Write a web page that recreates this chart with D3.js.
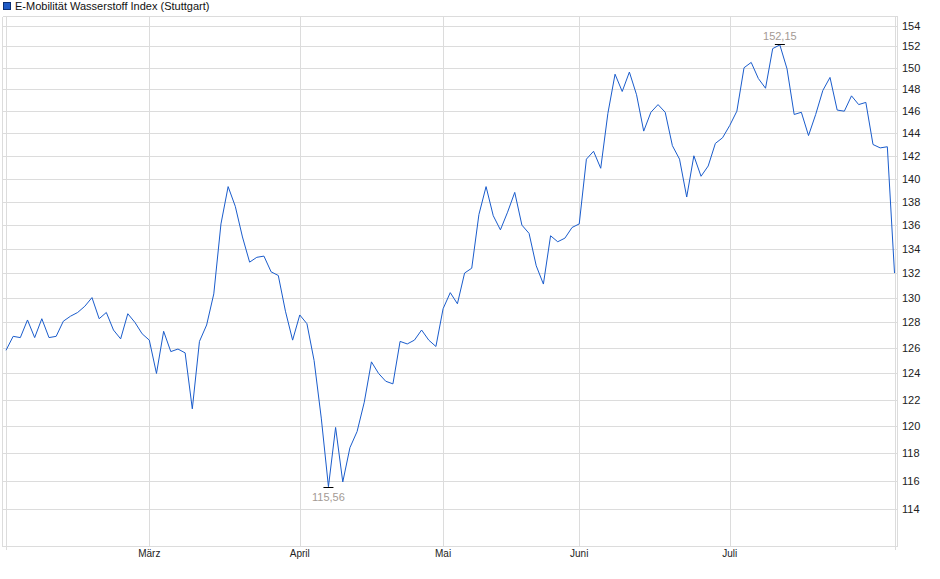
<!DOCTYPE html>
<html>
<head>
<meta charset="utf-8">
<title>E-Mobilität Wasserstoff Index</title>
<script src="https://cdn.jsdelivr.net/npm/d3@7"></script>
<style>
  body { margin: 0; background: #fff; font-family: "Liberation Sans", Arial, sans-serif; }
  svg { display: block; }
  .grid line { stroke: #dcdcdc; stroke-width: 1; shape-rendering: crispEdges; }
  .ylab { font-size: 11px; fill: #222; }
  .xlab { font-size: 10px; fill: #222; }
</style>
</head>
<body>
<div id="chart"></div>
<script>
// series name and closing values (one per trading day)
var seriesName = "E-Mobilität Wasserstoff Index (Stuttgart)";
var values = [
  125.8, 126.9, 126.8, 128.2, 126.8, 128.3, 126.8, 126.9, 128.1, 128.5,
  128.8, 129.3, 130.0, 128.3, 128.8, 127.4, 126.7, 128.7, 128.0, 127.1,
  126.6, 124.0, 127.3, 125.7, 125.9, 125.6, 121.3, 126.5, 127.8, 130.3,
  136.1, 139.3, 137.6, 135.0, 132.9, 133.3, 133.4, 132.1, 131.8, 128.9,
  126.6, 128.6, 127.9, 125.0, 120.6, 115.56, 119.9, 115.9, 118.4, 119.6,
  121.8, 124.9, 124.0, 123.4, 123.2, 126.5, 126.3, 126.6, 127.4, 126.6,
  126.1, 129.1, 130.4, 129.5, 132.0, 132.4, 136.9, 139.3, 136.8, 135.6,
  137.1, 138.8, 136.0, 135.3, 132.6, 131.1, 135.1, 134.6, 134.9, 135.8,
  136.1, 141.7, 142.4, 140.9, 145.8, 149.4, 147.8, 149.6, 147.5, 144.2,
  145.9, 146.6, 145.9, 142.9, 141.7, 138.4, 142.0, 140.2, 141.1, 143.1,
  143.6, 144.7, 146.0, 150.0, 150.5, 149.0, 148.1, 151.8, 152.15, 149.9,
  145.7, 145.9, 143.8, 145.7, 147.9, 149.1, 146.1, 146.0, 147.4, 146.6,
  146.8, 143.0, 142.7, 142.8, 132.0
];
// month starts, as index into values
var monthIdx = [20, 41, 61, 80, 101];
var monthNames = ["März", "April", "Mai", "Juni", "Juli"];
// y ticks
var yTicks = d3.range(114, 155, 2);

var width = 940, height = 579;
var frame = { left: 2.5, right: 897.5, top: 16.5, bottom: 546.5 };

var x = d3.scaleLinear()
    .domain([0, values.length - 1])
    .range([6, 894.5]);
// log scale, like the original
var y = d3.scaleLog()
    .domain([114, 154])
    .range([508.5, 25.5]);

var de = d3.formatLocale({ decimal: ",", thousands: ".", grouping: [3], currency: ["", " €"] });
var fmt = de.format(".2f");

var svg = d3.select("#chart").append("svg")
    .attr("width", width)
    .attr("height", height);

// legend
svg.append("rect")
    .attr("x", 3.5).attr("y", 2.5)
    .attr("width", 7).attr("height", 7)
    .attr("fill", "#1f5bc6")
    .attr("stroke", "#0b2f73");
svg.append("text")
    .attr("x", 15).attr("y", 10)
    .attr("font-size", 11)
    .attr("fill", "#111")
    .text(seriesName);

// grid
var grid = svg.append("g").attr("class", "grid");
grid.selectAll(".hy").data(yTicks).enter().append("line")
    .attr("x1", frame.left).attr("x2", frame.right)
    .attr("y1", function(d) { return Math.round(y(d)) + 0.5; })
    .attr("y2", function(d) { return Math.round(y(d)) + 0.5; });

var vIdx = [0].concat(monthIdx).concat([values.length - 1]);
grid.selectAll(".vx").data(vIdx).enter().append("line")
    .attr("x1", function(d) { return Math.round(x(d)) + 0.5; })
    .attr("x2", function(d) { return Math.round(x(d)) + 0.5; })
    .attr("y1", frame.top)
    .attr("y2", function(d, i) { return (i == 0 || i == vIdx.length - 1) ? frame.bottom + 3 : frame.bottom; });

// frame
grid.append("line").attr("x1", frame.left).attr("x2", frame.right).attr("y1", frame.top).attr("y2", frame.top);
grid.append("line").attr("x1", frame.left).attr("x2", frame.right).attr("y1", frame.bottom).attr("y2", frame.bottom);
grid.append("line").attr("x1", frame.left).attr("x2", frame.left).attr("y1", frame.top).attr("y2", frame.bottom);
grid.append("line").attr("x1", frame.right).attr("x2", frame.right).attr("y1", frame.top).attr("y2", frame.bottom);

// y labels on the right
svg.selectAll(".ylab").data(yTicks).enter().append("text")
    .attr("class", "ylab")
    .attr("x", 902)
    .attr("y", function(d) { return y(d) + 4; })
    .text(function(d) { return d; });

// month labels
svg.selectAll(".xlab").data(monthIdx).enter().append("text")
    .attr("class", "xlab")
    .attr("x", function(d) { return x(d); })
    .attr("y", 557)
    .attr("text-anchor", "middle")
    .text(function(d, i) { return monthNames[i]; });

// the line
var line = d3.line()
    .x(function(d, i) { return x(i); })
    .y(function(d) { return y(d); });

svg.append("path")
    .datum(values)
    .attr("d", line)
    .attr("fill", "none")
    .attr("stroke", "#1a5ccc")
    .attr("stroke-width", 1);

// min / max markers
var iMin = d3.minIndex(values), iMax = d3.maxIndex(values);

svg.append("line")
    .attr("x1", x(iMin) - 5).attr("x2", x(iMin) + 5)
    .attr("y1", Math.round(y(values[iMin])) + 0.5).attr("y2", Math.round(y(values[iMin])) + 0.5)
    .attr("stroke", "#000");
svg.append("text")
    .attr("x", x(iMin)).attr("y", y(values[iMin]) + 14)
    .attr("text-anchor", "middle")
    .attr("font-size", 11)
    .attr("fill", "#a39a94")
    .text(fmt(values[iMin]));

svg.append("line")
    .attr("x1", x(iMax) - 5).attr("x2", x(iMax) + 5)
    .attr("y1", Math.round(y(values[iMax])) - 0.5).attr("y2", Math.round(y(values[iMax])) - 0.5)
    .attr("stroke", "#000");
svg.append("text")
    .attr("x", x(iMax)).attr("y", y(values[iMax]) - 5)
    .attr("text-anchor", "middle")
    .attr("font-size", 11)
    .attr("fill", "#a39a94")
    .text(fmt(values[iMax]));
</script>
</body>
</html>
